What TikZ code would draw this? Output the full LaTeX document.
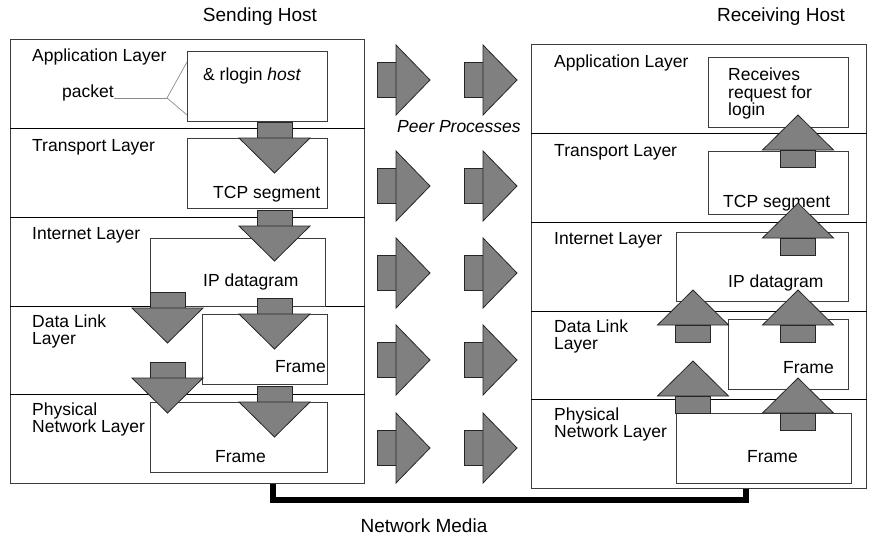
\documentclass[tikz,border=0pt]{standalone}
\usepackage{fontspec}
\setmainfont{Liberation Sans}
\definecolor{arrowgray}{RGB}{128,128,128}
\definecolor{linegray}{RGB}{60,60,60}
\begin{document}
\begin{tikzpicture}[x=1pt,y=-1pt,
  txt/.style={font=\fontsize{17.5}{17}\selectfont, inner sep=0pt, anchor=base west},
  title/.style={font=\fontsize{19}{19}\selectfont, inner sep=0pt, anchor=base},
  hostbox/.style={draw=linegray, line width=1pt, inner sep=0pt, anchor=north west},
  pktbox/.style={draw=linegray, fill=white, line width=1pt, inner sep=0pt, anchor=north west},
  sep/.style={draw=black, line width=1pt},
  blk/.style={fill=arrowgray, draw=black!85, line width=0.8pt, line join=miter},
  media/.style={draw=black, line width=6pt, line join=miter},
  brk/.style={draw=black!45, line width=0.7pt},
  downarr/.pic={\path[blk] (-17.5,-16) rectangle (17.5,0); \path[blk] (-35.5,0) -- (35.5,0) -- (0,35) -- cycle;},
  uparr/.pic={\path[blk] (-35.5,0) -- (35.5,0) -- (0,-35) -- cycle; \path[blk] (-17.5,0) rectangle (17.5,17);},
  rightarr/.pic={\path[blk] (-19,-17.5) rectangle (0,17.5); \path[blk] (0,-35) -- (34,0) -- (0,35) -- cycle;}
]
\useasboundingbox (0,0) rectangle (875,535);

% titles
\node[title] (tsend) at (260,22) {Sending Host};
\node[title] (trecv) at (781,22) {Receiving Host};
\node[title] (tmedia) at (424,532) {Network Media};

% host boxes
\node[hostbox, minimum width=354pt, minimum height=444pt] (lhost) at (10,39) {};
\node[hostbox, minimum width=335pt, minimum height=444pt] (rhost) at (531,44) {};
\foreach \y in {128,217,306,394} \draw[sep] (lhost.west |- 0,\y) -- (lhost.east |- 0,\y);
\foreach \y in {133,222,311,399} \draw[sep] (rhost.west |- 0,\y) -- (rhost.east |- 0,\y);

% network media
\draw[media] (lhost.south -| 273,0) -- (273,500) -- (746,500) -- (rhost.south -| 746,0);

% left layer labels
\node[txt] (lla) at (32,62) {Application Layer};
\node[txt] (llt) at (32,151) {Transport Layer};
\node[txt] (lli) at (32,239) {Internet Layer};
\node[txt] (lld1) at (32,327) {Data Link};
\node[txt] (lld2) at (32,344) {Layer};
\node[txt] (llp1) at (32,415) {Physical};
\node[txt] (llp2) at (32,432) {Network Layer};

% right layer labels
\node[txt] (rla) at (554,67) {Application Layer};
\node[txt] (rlt) at (554,156) {Transport Layer};
\node[txt] (rli) at (554,244) {Internet Layer};
\node[txt] (rld1) at (554,332) {Data Link};
\node[txt] (rld2) at (554,349) {Layer};
\node[txt] (rlp1) at (554,420) {Physical};
\node[txt] (rlp2) at (554,437) {Network Layer};

% left packet boxes
\node[pktbox, minimum width=140pt, minimum height=70pt] (lapp) at (187,51) {};
\node[pktbox, minimum width=140pt, minimum height=70pt] (ltcp) at (187,138) {};
\node[pktbox, minimum width=175pt, minimum height=68pt] (lip) at (150,238) {};
\node[pktbox, minimum width=125pt, minimum height=70pt] (lfr) at (202,314) {};
\node[pktbox, minimum width=177pt, minimum height=70pt] (lphy) at (150,402) {};

% right packet boxes
\node[pktbox, minimum width=140pt, minimum height=70pt] (rapp) at (708,57) {};
\node[pktbox, minimum width=140pt, minimum height=63pt] (rtcp) at (708,151) {};
\node[pktbox, minimum width=172pt, minimum height=69pt] (rip) at (676,232) {};
\node[pktbox, minimum width=120pt, minimum height=70pt] (rfr) at (728,319) {};
\node[pktbox, minimum width=175pt, minimum height=70pt] (rphy) at (676,413) {};

% packet texts left
\node[txt] (lappt) at (203,81) {\& rlogin \textit{host}};
\node[txt] (pkt) at (62,97) {packet};
\coordinate (bk) at (167,98);
\draw[brk] (pkt.base east |- bk) -- (bk);
\draw[brk] (lapp.north west |- 0,62) -- (bk) -- (lapp.south west |- 0,115);
\node[txt] (ltcpt) at (213,198) {TCP segment};
\node[txt] (lipt) at (203,286) {IP datagram};
\node[txt] (lfrt) at (275,372) {Frame};
\node[txt] (lphyt) at (215,462) {Frame};

% packet texts right
\node[txt] (rappt1) at (728,81) {Receives};
\node[txt] (rappt2) at (728,98) {request for};
\node[txt] (rappt3) at (728,115) {login};
\node[txt] (rtcpt) at (723,207) {TCP segment};
\node[txt] (ript) at (728,287) {IP datagram};
\node[txt] (rfrt) at (783,373) {Frame};
\node[txt] (rphyt) at (747,462) {Frame};

% left down arrows
\pic at (274.5,138) {downarr};
\pic at (274.5,226) {downarr};
\pic at (167.5,308) {downarr};
\pic at (274.5,314) {downarr};
\pic at (167.5,378) {downarr};
\pic at (274.5,402) {downarr};

% right up arrows
\pic at (798,150) {uparr};
\pic at (798,238) {uparr};
\pic at (693,325) {uparr};
\pic at (798,325) {uparr};
\pic at (693,396) {uparr};
\pic at (798,413) {uparr};

% peer arrows
\foreach \y in {80,186,273,360,448} {
  \pic at (396,\y) {rightarr};
  \pic at (483,\y) {rightarr};
}
\node[txt, font=\fontsize{17.5}{17}\selectfont\itshape] (peer) at (397,132) {Peer Processes};
\end{tikzpicture}
\end{document}
